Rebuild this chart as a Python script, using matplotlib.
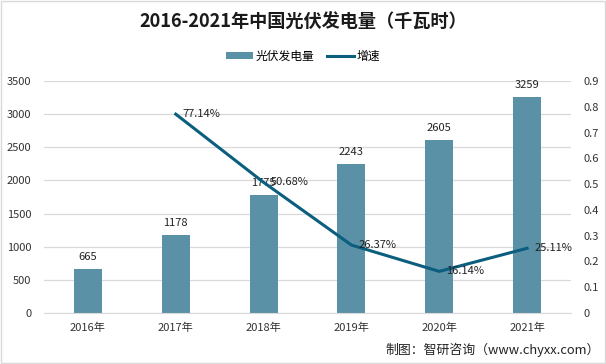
import matplotlib
matplotlib.use('Agg')
import matplotlib.pyplot as plt
import numpy as np

plt.rcParams['font.family'] = ['Noto Sans CJK SC', 'DejaVu Sans']

years = ['2016年', '2017年', '2018年', '2019年', '2020年', '2021年']
power = [665, 1178, 1775, 2243, 2605, 3259]
growth = [np.nan, 0.7714, 0.5068, 0.2637, 0.1614, 0.2511]
growth_labels = ['', '77.14%', '50.68%', '26.37%', '16.14%', '25.11%']

bar_color = '#5b91a7'
line_color = '#0b5e7e'

fig = plt.figure(figsize=(6.06, 3.64), dpi=100)
ax = fig.add_axes([44 / 606, 51 / 364, 527 / 606, 232 / 364])
ax2 = ax.twinx()

x = np.arange(len(years))
ax.bar(x, power, width=0.32, color=bar_color, label='光伏发电量', zorder=2)
ax2.plot(x, growth, color=line_color, lw=2.2, label='增速', zorder=3)

for xi, v in zip(x, power):
    ax.text(xi, v + 110, str(v), ha='center', va='bottom', fontsize=8, color='#222222')
for xi, v, t in zip(x, growth, growth_labels):
    if t:
        ax2.text(xi + 0.08, v, t, ha='left', va='center', fontsize=8, color='#222222')

ax.set_xlim(-0.5, 5.5)
ax.set_ylim(0, 3500)
ax.set_yticks(range(0, 3501, 500))
ax2.set_ylim(0, 0.9)
ax2.set_yticks(np.arange(0, 0.91, 0.1))
ax2.set_yticklabels(['0'] + ['%.1f' % v for v in np.arange(0.1, 0.91, 0.1)])
ax.set_xticks(x)
ax.set_xticklabels(years)

ax.grid(axis='y', color='#d9d9d9', lw=0.9, zorder=0)
ax.set_axisbelow(True)
for a in (ax, ax2):
    for s in a.spines.values():
        s.set_visible(False)
    a.tick_params(length=0, labelsize=8, colors='#333333')
ax.spines['bottom'].set_visible(True)
ax.spines['bottom'].set_color('#d9d9d9')
ax.tick_params(axis='x', pad=7)
ax.tick_params(axis='y', pad=9)
ax2.tick_params(axis='y', pad=9)
ax.set_zorder(ax2.get_zorder() - 1)
ax.patch.set_visible(False)

fig.text(0.5, 1 - 22 / 364, '2016-2021年中国光伏发电量（千瓦时）', ha='center', va='center',
         fontsize=13.1, fontweight='bold', color='#1a1a1a')

h1, l1 = ax.get_legend_handles_labels()
h2, l2 = ax2.get_legend_handles_labels()
fig.legend(h1 + h2, l1 + l2, loc='center', bbox_to_anchor=(0.5, 1 - 56 / 364), ncol=2,
           frameon=False, fontsize=8.5, handlelength=2.3, handleheight=0.6, columnspacing=1.1,
           handletextpad=0.2)

fig.text(0.99, 1 - 350 / 364, '制图：智研咨询（www.chyxx.com）', ha='right', va='center',
         fontsize=9.3, color='#222222')

border = plt.Rectangle((0.002, 0.002), 0.996, 0.996, transform=fig.transFigure,
                       fill=False, edgecolor='#d9d9d9', lw=1)
fig.patches.append(border)

fig.savefig('out.png', dpi=100)
